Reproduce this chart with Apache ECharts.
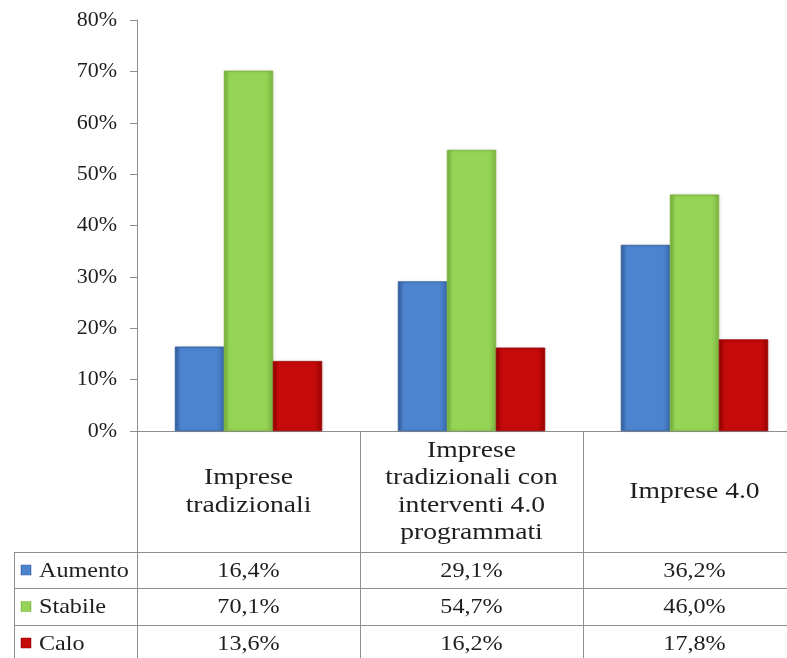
<!DOCTYPE html>
<html><head><meta charset="utf-8">
<script src="https://cdn.jsdelivr.net/npm/echarts@6/dist/echarts.min.js"></script>
<style>html,body{margin:0;padding:0;background:#fff}#c{width:787px;height:658px}</style>
</head><body><div id="c"></div>
<script>
const categories = ['Imprese\ntradizionali', 'Imprese\ntradizionali con\ninterventi 4.0\nprogrammati', 'Imprese 4.0'];
const seriesNames = ['Aumento', 'Stabile', 'Calo'];
const aumento = [16.4, 29.1, 36.2];
const stabile = [70.1, 54.7, 46.0];
const calo = [13.6, 16.2, 17.8];
const yMin = 0, yMax = 80, yStep = 10;

const FONT = '"Liberation Serif","Times New Roman",serif';
const TXT = '#1e1e1e';
const LINE = '#8e8e8e';
const palettes = [
  ['#33609f', '#4d84cf', '#3a6ab0'],
  ['#78b23c', '#95d455', '#7cb640'],
  ['#940000', '#c40a0a', '#9c0202']
];
function grad(p) {
  return new echarts.graphic.LinearGradient(0, 0, 1, 0, [
    {offset: 0, color: p[0]}, {offset: 0.12, color: p[1]},
    {offset: 0.85, color: p[1]}, {offset: 1, color: p[2]}
  ]);
}
const seriesData = [aumento, stabile, calo];
const fmt = v => v.toFixed(1).replace('.', ',') + '%';

const chart = echarts.init(document.getElementById('c'), null, {renderer: 'canvas'});
const GRID = {left: 137, top: 20, width: 669, height: 411, containLabel: false, outerBoundsMode: 'none'};
chart.setOption({
  animation: false,
  backgroundColor: '#fff',
  grid: GRID,
  xAxis: {
    type: 'category', data: categories,
    axisLine: {lineStyle: {color: LINE, width: 1}},
    axisTick: {show: false}, axisLabel: {show: false}, splitLine: {show: false}
  },
  yAxis: {
    type: 'value', min: yMin, max: yMax, interval: yStep,
    axisLine: {show: true, lineStyle: {color: LINE, width: 1}},
    axisTick: {show: true, length: 7, lineStyle: {color: LINE}},
    splitLine: {show: false},
    axisLabel: {formatter: v => v + '%', fontFamily: FONT, fontSize: 22, color: TXT, margin: 20}
  },
  series: seriesNames.map((n, i) => ({
    name: n, type: 'bar', data: seriesData[i], barWidth: 49, barGap: '0%',
    itemStyle: {color: grad(palettes[i]), borderColor: palettes[i][0], borderWidth: 0.5,
      shadowColor: 'rgba(0,0,0,0.25)', shadowBlur: 3, shadowOffsetX: 1}
  }))
});

// Data table below the plot
const colW = GRID.width / categories.length;
const axisY = GRID.top + GRID.height;
const rowTops = [552, 588, 625, 661];
const tableLeft = 14, rightEdge = GRID.left + GRID.width;
const g = [];
const line = (x1, y1, x2, y2) => g.push({type: 'line', shape: {x1, y1, x2, y2}, style: {stroke: LINE, lineWidth: 1}, silent: true});
rowTops.forEach(y => line(tableLeft, y + 0.5, rightEdge, y + 0.5));
line(tableLeft + 0.5, rowTops[0], tableLeft + 0.5, rowTops[3]);
for (let i = 0; i <= categories.length; i++) {
  const c = chart.convertToPixel({xAxisIndex: 0}, Math.min(i, categories.length - 1));
  const x = i < categories.length ? c - colW / 2 : c + colW / 2;
  line(Math.round(x) + 0.5, axisY, Math.round(x) + 0.5, rowTops[3]);
}
const SX = 1.15;
categories.forEach((cat, i) => {
  const cx = chart.convertToPixel({xAxisIndex: 0}, i);
  g.push({type: 'text', x: cx, y: (axisY + rowTops[0]) / 2, scaleX: SX, silent: true,
    style: {text: cat, font: '24px ' + FONT, fill: TXT, align: 'center', verticalAlign: 'middle', lineHeight: 27.5}});
  seriesData.forEach((arr, r) => {
    g.push({type: 'text', x: cx, y: (rowTops[r] + rowTops[r + 1]) / 2 + 1, scaleX: SX, silent: true,
      style: {text: fmt(arr[i]), font: '21px ' + FONT, fill: TXT, align: 'center', verticalAlign: 'middle'}});
  });
});
seriesNames.forEach((n, r) => {
  const cy = (rowTops[r] + rowTops[r + 1]) / 2;
  g.push({type: 'rect', shape: {x: 21, y: cy - 5, width: 10, height: 10}, silent: true,
    style: {fill: grad(palettes[r]), stroke: palettes[r][0], lineWidth: 0.5}});
  g.push({type: 'text', x: 39, y: cy + 1, scaleX: SX, silent: true,
    style: {text: n, font: '21px ' + FONT, fill: TXT, align: 'left', verticalAlign: 'middle'}});
});
chart.setOption({graphic: {elements: g}});
</script>
</body></html>
